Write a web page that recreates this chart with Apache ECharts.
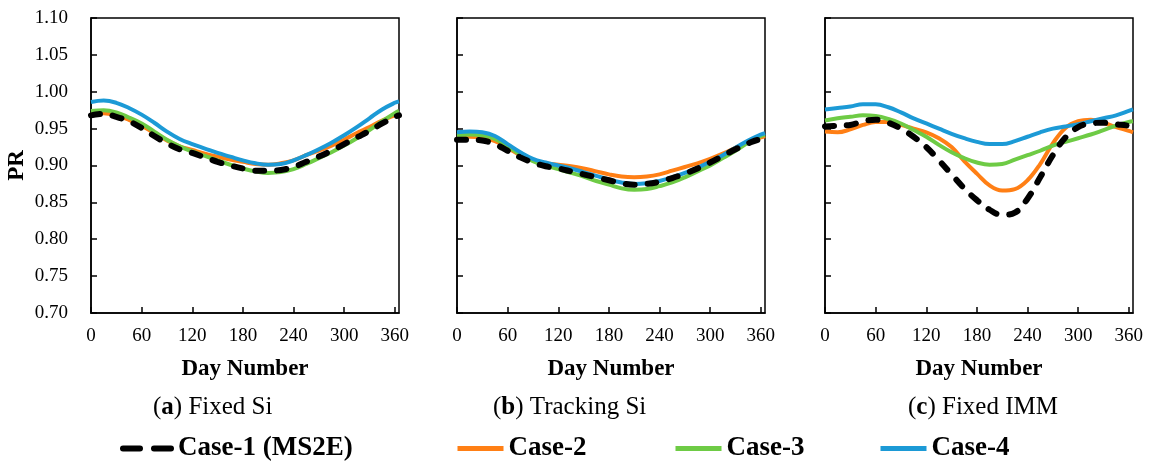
<!DOCTYPE html>
<html>
<head>
<meta charset="utf-8">
<title>PR vs Day Number</title>
<script src="https://cdn.jsdelivr.net/npm/echarts@6/dist/echarts.min.js"></script>
<style>
  html, body { margin: 0; padding: 0; background: #fff; }
  #chart { width: 1150px; height: 465px; }
</style>
</head>
<body>
<div id="chart"></div>
<script>
// day numbers shared by every curve
var days = [0, 15, 30, 45, 60, 75, 90, 105, 120, 135, 150, 165, 180, 195, 210,
  225, 240, 255, 270, 285, 300, 315, 330, 345, 360, 365];

var seriesNames = ["Case-1 (MS2E)", "Case-2", "Case-3", "Case-4"];
var captions = ["a", "b", "c"];
var captionText = ["Fixed Si", "Tracking Si", "Fixed IMM"];
var xTicks = [0, 60, 120, 180, 240, 300, 360];
var yTicks = [0.70, 0.75, 0.80, 0.85, 0.90, 0.95, 1.00, 1.05, 1.10];

// (a) Fixed Si
var fixedSi_case1 = [0.968, 0.970, 0.966, 0.960, 0.951, 0.940, 0.930, 0.922, 0.917, 0.911, 0.905, 0.900, 0.896, 0.893, 0.893,
  0.894, 0.898, 0.905, 0.912, 0.920, 0.929, 0.938, 0.947, 0.957, 0.966, 0.968];
var fixedSi_case2 = [0.970, 0.971, 0.968, 0.962, 0.954, 0.944, 0.934, 0.926, 0.921, 0.916, 0.912, 0.908, 0.905, 0.902, 0.901,
  0.903, 0.907, 0.914, 0.920, 0.927, 0.935, 0.944, 0.952, 0.961, 0.968, 0.970];
var fixedSi_case3 = [0.974, 0.975, 0.972, 0.965, 0.957, 0.946, 0.935, 0.926, 0.919, 0.913, 0.907, 0.901, 0.896, 0.892, 0.890,
  0.891, 0.895, 0.902, 0.910, 0.918, 0.927, 0.937, 0.948, 0.960, 0.971, 0.974];
var fixedSi_case4 = [0.986, 0.988, 0.985, 0.978, 0.969, 0.958, 0.946, 0.936, 0.929, 0.923, 0.917, 0.912, 0.907, 0.903, 0.901,
  0.902, 0.907, 0.914, 0.922, 0.931, 0.941, 0.952, 0.964, 0.976, 0.985, 0.987];

// (b) Tracking Si
var trackSi_case1 = [0.935, 0.935, 0.934, 0.929, 0.920, 0.911, 0.904, 0.899, 0.896, 0.892, 0.888, 0.884, 0.880, 0.876, 0.874,
  0.875, 0.878, 0.883, 0.889, 0.896, 0.904, 0.913, 0.922, 0.930, 0.935, 0.935];
var trackSi_case2 = [0.938, 0.939, 0.938, 0.933, 0.924, 0.914, 0.907, 0.903, 0.901, 0.899, 0.896, 0.892, 0.888, 0.885, 0.884,
  0.885, 0.888, 0.893, 0.898, 0.903, 0.909, 0.916, 0.924, 0.932, 0.938, 0.940];
var trackSi_case3 = [0.941, 0.942, 0.941, 0.936, 0.926, 0.915, 0.906, 0.900, 0.895, 0.890, 0.885, 0.879, 0.874, 0.869, 0.867,
  0.868, 0.872, 0.877, 0.884, 0.892, 0.900, 0.910, 0.920, 0.931, 0.940, 0.942];
var trackSi_case4 = [0.945, 0.946, 0.945, 0.940, 0.929, 0.918, 0.909, 0.904, 0.900, 0.896, 0.891, 0.886, 0.881, 0.877, 0.875,
  0.876, 0.879, 0.884, 0.890, 0.897, 0.905, 0.914, 0.924, 0.934, 0.942, 0.944];

// (c) Fixed IMM
var fixedImm_case1 = [0.953, 0.954, 0.955, 0.960, 0.962, 0.958, 0.950, 0.939, 0.925, 0.907, 0.888, 0.869, 0.853, 0.840, 0.833,
  0.836, 0.855, 0.884, 0.914, 0.938, 0.952, 0.957, 0.958, 0.956, 0.954, 0.953];
var fixedImm_case2 = [0.946, 0.945, 0.949, 0.955, 0.959, 0.959, 0.955, 0.950, 0.945, 0.937, 0.925, 0.906, 0.889, 0.873, 0.866,
  0.868, 0.880, 0.902, 0.930, 0.951, 0.960, 0.962, 0.958, 0.952, 0.947, 0.945];
var fixedImm_case3 = [0.961, 0.964, 0.966, 0.968, 0.967, 0.963, 0.957, 0.948, 0.939, 0.928, 0.918, 0.910, 0.904, 0.901, 0.902,
  0.908, 0.914, 0.920, 0.927, 0.932, 0.937, 0.942, 0.948, 0.954, 0.959, 0.960];
var fixedImm_case4 = [0.976, 0.978, 0.980, 0.983, 0.983, 0.979, 0.972, 0.964, 0.957, 0.950, 0.943, 0.937, 0.932, 0.929, 0.929,
  0.933, 0.939, 0.945, 0.950, 0.953, 0.956, 0.960, 0.964, 0.968, 0.974, 0.976];

var panels = [
  [fixedSi_case1, fixedSi_case2, fixedSi_case3, fixedSi_case4],
  [trackSi_case1, trackSi_case2, trackSi_case3, trackSi_case4],
  [fixedImm_case1, fixedImm_case2, fixedImm_case3, fixedImm_case4]
];

var colors = ["#000000", "#FF7F15", "#6ECB45", "#1C9AD6"];
var serif = "'Liberation Serif', 'Times New Roman', serif";
var gridLeft = [91, 457, 825];
var captionLeft = [148, 488, 903];
var legendLeft = [120, 455, 673, 878];

function pairs(values) {
  return days.map(function (d, i) { return [d, values[i]]; });
}

var grids = [], xAxes = [], yAxes = [], series = [], titles = [], legends = [];

gridLeft.forEach(function (left, p) {
  grids.push({
    left: left, top: 18, width: 308, height: 295,
    show: true, borderColor: "#000", borderWidth: 1.5, backgroundColor: "transparent"
  });
  xAxes.push({
    gridIndex: p, type: "value", min: 0, max: 365, interval: 60,
    name: "Day Number", nameLocation: "middle", nameGap: 45,
    nameTextStyle: { fontFamily: serif, fontWeight: "bold", fontSize: 23, color: "#000" },
    axisLine: { show: true, lineStyle: { color: "#000", width: 1.5 } },
    axisTick: { show: true, inside: true, length: 6, lineStyle: { color: "#000", width: 1.5 } },
    axisLabel: {
      fontFamily: serif, fontSize: 19, color: "#000", margin: 14, showMaxLabel: false,
      formatter: function (v) { return xTicks.indexOf(v) >= 0 ? String(v) : ""; }
    },
    splitLine: { show: false }
  });
  yAxes.push({
    gridIndex: p, type: "value", min: yTicks[0], max: yTicks[yTicks.length - 1], interval: 0.05,
    name: p === 0 ? "PR" : "", nameLocation: "middle", nameRotate: 90, nameGap: 62,
    nameTextStyle: { fontFamily: serif, fontWeight: "bold", fontSize: 23, color: "#000" },
    axisLine: { show: true, lineStyle: { color: "#000", width: 1.5 } },
    axisTick: { show: true, inside: true, length: 6, lineStyle: { color: "#000", width: 1.5 } },
    axisLabel: {
      show: p === 0, fontFamily: serif, fontSize: 19, color: "#000", margin: 23,
      formatter: function (v) { return v.toFixed(2); }
    },
    splitLine: { show: false }
  });
  titles.push({
    text: "({b|" + captions[p] + "}) " + captionText[p],
    left: captionLeft[p], top: 390,
    textStyle: {
      fontFamily: serif, fontSize: 25, fontWeight: "normal", color: "#000",
      rich: { b: { fontFamily: serif, fontSize: 25, fontWeight: "bold", color: "#000" } }
    }
  });
  // draw case-1 last so the dashed line sits on top
  [1, 2, 3, 0].forEach(function (c) {
    var dashed = c === 0;
    series.push({
      name: seriesNames[c], type: "line", xAxisIndex: p, yAxisIndex: p,
      data: pairs(panels[p][c]), smooth: 0.4, symbol: "none", z: dashed ? 5 : 3,
      color: colors[c],
      lineStyle: dashed
        ? { color: colors[c], width: 6, type: [9, 13], cap: "round" }
        : { color: colors[c], width: 4 }
    });
  });
});

seriesNames.forEach(function (name, i) {
  var lineStyle = i === 0
    ? { color: "#000", type: [17, 14], width: 6, cap: "round" }
    : { color: colors[i], type: "solid", width: 5 };
  legends.push({
    data: [{ name: name, lineStyle: lineStyle }],
    left: legendLeft[i], top: 435, orient: "horizontal",
    itemWidth: i === 0 ? 50 : 46, itemHeight: 12, padding: 0,
    textStyle: { fontFamily: serif, fontWeight: "bold", fontSize: 27, color: "#000" },
    // hide the marker the line legend icon adds, keep only the line
    itemStyle: { color: "transparent", borderColor: "transparent", borderWidth: 0, opacity: 0 },
    lineStyle: lineStyle
  });
});

var chart = echarts.init(document.getElementById("chart"), null, { renderer: "canvas" });
chart.setOption({
  animation: false,
  backgroundColor: "#fff",
  title: titles,
  legend: legends,
  grid: grids,
  xAxis: xAxes,
  yAxis: yAxes,
  series: series
});
</script>
</body>
</html>
